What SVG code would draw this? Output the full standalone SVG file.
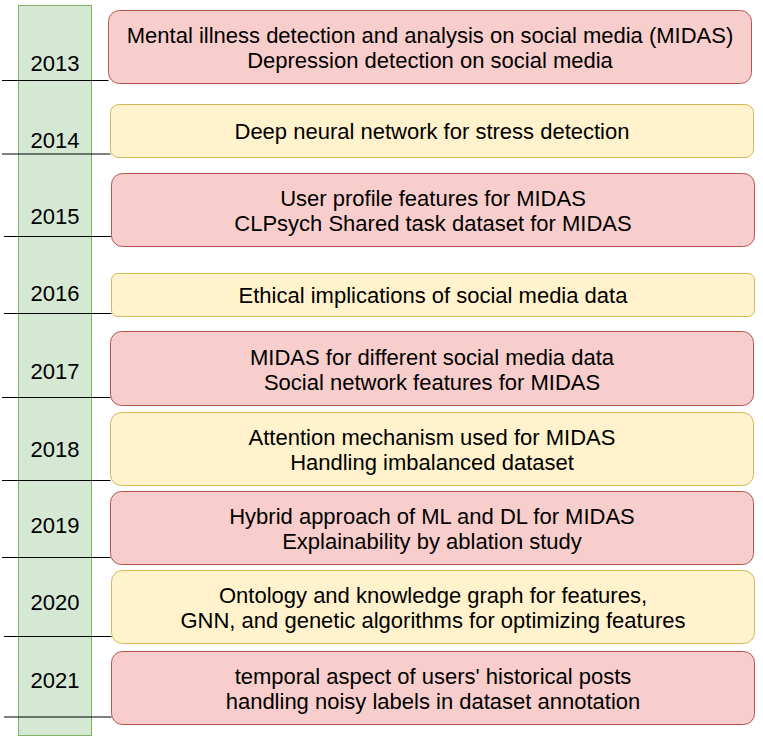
<svg xmlns="http://www.w3.org/2000/svg" width="763" height="743" viewBox="0 0 763 743">
<style>
.bar{fill:#d5e8d4;stroke:#82b366;stroke-width:1}
.red{fill:#f8cecc;stroke:#b85450;stroke-width:1}
.yel{fill:#fff2cc;stroke:#d6b656;stroke-width:1}
.ln{stroke:#000;stroke-width:1;fill:none}
text{font-family:"Liberation Sans",Arial,Helvetica,sans-serif;font-size:22px;fill:#000;text-anchor:middle}
</style>
<rect width="763" height="743" fill="#fff"/>
<g id="timeline">
<rect class="bar" x="18.5" y="5.5" width="73" height="730"/>
<text x="55" y="71">2013</text>
<text x="55" y="147.5">2014</text>
<text x="55" y="224">2015</text>
<text x="55" y="301">2016</text>
<text x="55" y="378.5">2017</text>
<text x="55" y="456.5">2018</text>
<text x="55" y="533">2019</text>
<text x="55" y="610">2020</text>
<text x="55" y="687.5">2021</text>
</g>
<g id="connectors">
<line class="ln" x1="2" y1="80.5" x2="108.5" y2="80.5"/>
<line class="ln" x1="2" y1="154" x2="110.5" y2="154"/>
<line class="ln" x1="4" y1="236.5" x2="111.5" y2="236.5"/>
<line class="ln" x1="4" y1="313.5" x2="111.5" y2="313.5"/>
<line class="ln" x1="2" y1="397.5" x2="110.5" y2="397.5"/>
<line class="ln" x1="2" y1="480.5" x2="110.5" y2="480.5"/>
<line class="ln" x1="2" y1="557.5" x2="110.5" y2="557.5"/>
<line class="ln" x1="4" y1="636.5" x2="111.5" y2="636.5"/>
<line class="ln" x1="4" y1="717" x2="111.5" y2="717"/>
</g>
<g id="n2013">
<rect class="red" x="108.5" y="10.5" width="643" height="73" rx="11"/>
<text x="430" y="43">Mental illness detection and analysis on social media (MIDAS)</text>
<text x="430" y="68">Depression detection on social media</text>
</g>
<g id="n2014">
<rect class="yel" x="110.5" y="104.5" width="643" height="53" rx="8"/>
<text x="432" y="139">Deep neural network for stress detection</text>
</g>
<g id="n2015">
<rect class="red" x="111.5" y="173.5" width="643" height="73" rx="11"/>
<text x="433" y="206">User profile features for MIDAS</text>
<text x="433" y="231">CLPsych Shared task dataset for MIDAS</text>
</g>
<g id="n2016">
<rect class="yel" x="111.5" y="273.5" width="643" height="43" rx="6.5"/>
<text x="433" y="303">Ethical implications of social media data</text>
</g>
<g id="n2017">
<rect class="red" x="110.5" y="331.5" width="643" height="74" rx="11"/>
<text x="432" y="364.5">MIDAS for different social media data</text>
<text x="432" y="389.5">Social network features for MIDAS</text>
</g>
<g id="n2018">
<rect class="yel" x="110.5" y="412.5" width="643" height="73" rx="11"/>
<text x="432" y="445">Attention mechanism used for MIDAS</text>
<text x="432" y="470">Handling imbalanced dataset</text>
</g>
<g id="n2019">
<rect class="red" x="110.5" y="491.5" width="643" height="73" rx="11"/>
<text x="432" y="524">Hybrid approach of ML and DL for MIDAS</text>
<text x="432" y="549">Explainability by ablation study</text>
</g>
<g id="n2020">
<rect class="yel" x="111.5" y="570.5" width="643" height="73" rx="11"/>
<text x="433" y="603">Ontology and knowledge graph for features,</text>
<text x="433" y="628">GNN, and genetic algorithms for optimizing features</text>
</g>
<g id="n2021">
<rect class="red" x="111.5" y="651.5" width="643" height="73" rx="11"/>
<text x="433" y="684">temporal aspect of users' historical posts</text>
<text x="433" y="709">handling noisy labels in dataset annotation</text>
</g>
</svg>
